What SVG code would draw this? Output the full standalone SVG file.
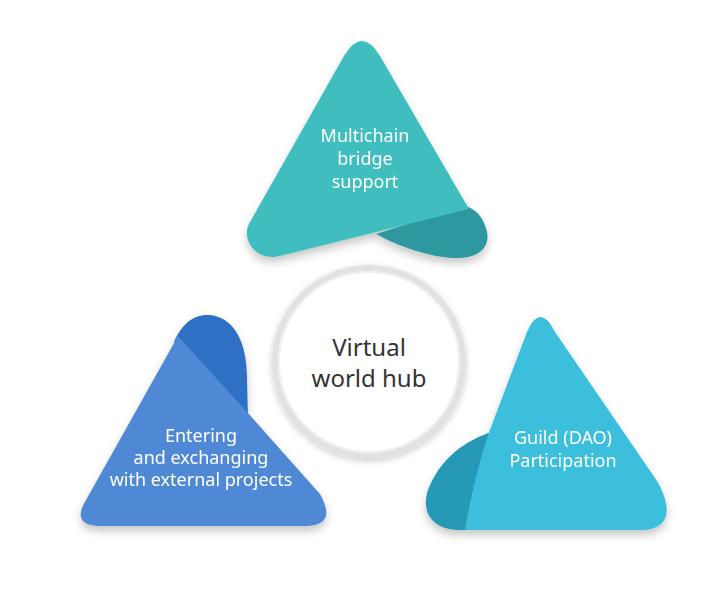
<svg xmlns="http://www.w3.org/2000/svg" width="722" height="591" viewBox="0 0 722 591">
<defs>
<filter id="sh" x="-20%" y="-20%" width="140%" height="150%">
<feDropShadow dx="0" dy="5" stdDeviation="4" flood-color="#000" flood-opacity="0.22"/>
</filter>
<filter id="csh" x="-20%" y="-20%" width="140%" height="140%">
<feDropShadow dx="0" dy="2" stdDeviation="3" flood-color="#000" flood-opacity="0.2"/>
</filter>
</defs>
<style>
.lbl{font-family:"Noto Sans","Open Sans",sans-serif;font-size:18px;fill:#ffffff;text-anchor:middle}
.hub{font-family:"Noto Sans","Open Sans",sans-serif;font-size:24px;fill:#333333;text-anchor:middle}
</style>
<rect width="722" height="591" fill="#ffffff"/>
<g id="connectors"></g>
<g id="node-top" filter="url(#sh)">
<path d="M376,234 C398,246 430,258 458,258 C481,258 490,245 487,232 C484,218 476,208 464,206 Z" fill="#2f98a1"/>
<path d="M250,222 L344,56 Q362,26 380,56 L469,209 L280,256 C255,262 240,238 250,222 Z" fill="#40bdbf"/>
<text class="lbl" x="365" y="142">Multichain</text>
<text class="lbl" x="365" y="165">bridge</text>
<text class="lbl" x="365" y="188">support</text>
</g>
<g id="node-left" filter="url(#sh)">
<path d="M174,342 C184,319 198,314 210,315 C236,318 247,345 247,378 L248,420 L200,380 Z" fill="#2e6fc3"/>
<path d="M178,336 L247,412 L320,494 Q338,526 305,526 L102,526 Q70,526 86,500 Z" fill="#5089d6"/>
<text class="lbl" x="201" y="442">Entering</text>
<text class="lbl" x="201" y="464">and exchanging</text>
<text class="lbl" x="201" y="486">with external projects</text>
</g>
<g id="node-right" filter="url(#sh)">
<path d="M492,432 C466,440 440,458 428,490 C420,515 435,530 460,530 L480,530 Z" fill="#2599b6"/>
<path d="M488,435 L527,332 Q540,302 555,332 L655,478 C666,494 680,530 640,530 L465,530 C470,500 478,466 488,435 Z" fill="#3bbfdc"/>
<text class="lbl" x="563" y="444">Guild (DAO)</text>
<text class="lbl" x="563" y="467">Participation</text>
</g>
<g id="node-hub">
<circle cx="369" cy="362" r="94" fill="#ffffff" stroke="#e2e2e2" stroke-width="6" filter="url(#csh)"/>
<circle cx="369" cy="362" r="90" fill="none" stroke="#f0f0f0" stroke-width="2"/>
<text class="hub" x="369" y="356">Virtual</text>
<text class="hub" x="369" y="387">world hub</text>
</g>
</svg>
